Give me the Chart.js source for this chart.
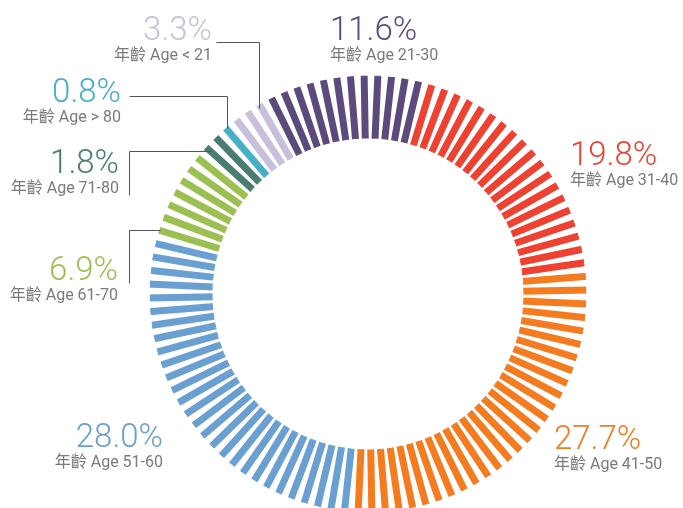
<!DOCTYPE html>
<html>
<head>
<meta charset="utf-8">
<script src="https://cdn.jsdelivr.net/npm/chart.js@4.4.1/dist/chart.umd.min.js"></script>
<style>
    html, body { margin: 0; padding: 0; background: #fff; overflow: hidden; }
    #wrap { width: 683px; height: 508px; position: relative; }
</style>
</head>
<body>
<div id="wrap"><canvas id="age-chart"></canvas></div>
<script>
const ageGroups = ['年齡 Age < 21', '年齡 Age 21-30', '年齡 Age 31-40', '年齡 Age 41-50',
    '年齡 Age 51-60', '年齡 Age 61-70', '年齡 Age 71-80', '年齡 Age > 80'];
const sharePercent = [3.3, 11.6, 19.8, 27.7, 28.0, 6.9, 1.8, 0.8];
const groupColors = ['#c8bfdb', '#5c4a7d', '#ef4131', '#f47b20', '#6a9fd1', '#9cbf52', '#4b7c72', '#46afc8'];

// label placement: [x, y of percent baseline, align]
const labelPos = [
    [212, 40, 'right'],
    [330, 40, 'left'],
    [570, 165, 'left'],
    [554, 449, 'left'],
    [163, 447, 'right'],
    [118, 280, 'right'],
    [119, 173, 'right'],
    [121, 102, 'right']
];
// leader lines for the small groups
const leaders = [
    [[216, 42], [259, 42], [259, 108]],
    null, null, null, null,
    [[129, 283], [129, 230], [160, 230]],
    [[129, 195], [129, 151], [211, 151]],
    [[129, 96], [227, 96], [227, 128]]
];

const STRIPES = 100;
const STRIPE_W = 7;
const STRIPE_PHASE = 0.83;

const stripePlugin = {
    id: 'stripes',
    afterDatasetsDraw(chart) {
        const arcs = chart.getDatasetMeta(0).data;
        if (!arcs.length) return;
        const { x, y, innerRadius, outerRadius } = arcs[0].getProps(['x', 'y', 'innerRadius', 'outerRadius'], true);
        const start = arcs[0].startAngle;
        const step = Math.PI * 2 / STRIPES;
        const ctx = chart.ctx;
        const base = ctx.getTransform();

        const angles = [];
        for (let k = 0; k < STRIPES; k++) {
            angles.push(start + (k + STRIPE_PHASE) * step);
        }

        ctx.save();
        // first paint each stripe's wedge with the colour of the slice its centre falls in
        ctx.globalCompositeOperation = 'source-atop';
        angles.forEach(a => {
            let norm = a;
            while (norm >= start + Math.PI * 2) norm -= Math.PI * 2;
            const arc = arcs.find(el => norm >= el.startAngle && norm < el.endAngle) || arcs[arcs.length - 1];
            ctx.beginPath();
            ctx.moveTo(x, y);
            ctx.arc(x, y, outerRadius + 3, a - step / 2, a + step / 2);
            ctx.closePath();
            ctx.fillStyle = arc.options.backgroundColor;
            ctx.fill();
        });

        // then keep only the stripes of the ring
        ctx.globalCompositeOperation = 'destination-in';
        ctx.beginPath();
        angles.forEach(a => {
            ctx.setTransform(base);
            ctx.translate(x, y);
            ctx.rotate(a);
            ctx.rect(innerRadius - 2, -STRIPE_W / 2, outerRadius - innerRadius + 4, STRIPE_W);
        });
        ctx.setTransform(base);
        ctx.fill();
        ctx.restore();
    },
    afterDraw(chart) {
        const ctx = chart.ctx;
        ctx.save();
        ctx.lineWidth = 1;
        ctx.strokeStyle = '#555555';
        leaders.forEach(pts => {
            if (!pts) return;
            ctx.beginPath();
            ctx.moveTo(pts[0][0] + 0.5, pts[0][1] + 0.5);
            for (let i = 1; i < pts.length; i++) ctx.lineTo(pts[i][0] + 0.5, pts[i][1] + 0.5);
            ctx.stroke();
        });

        ctx.textBaseline = 'alphabetic';
        sharePercent.forEach((v, i) => {
            const [lx, ly, align] = labelPos[i];
            ctx.textAlign = align;
            ctx.fillStyle = groupColors[i];
            ctx.font = '300 33px "Helvetica Neue", Roboto, "Noto Sans CJK TC", sans-serif';
            ctx.fillText(v.toFixed(1) + '%', lx, ly);
            ctx.fillStyle = '#7a7a7a';
            ctx.font = '16px "Helvetica Neue", Roboto, "Noto Sans CJK TC", sans-serif';
            ctx.fillText(ageGroups[i], lx, ly + 20);
        });
        ctx.restore();
    }
};

new Chart(document.getElementById('age-chart'), {
    type: 'doughnut',
    data: {
        labels: ageGroups,
        datasets: [{
            data: sharePercent,
            backgroundColor: groupColors,
            borderColor: groupColors,
            borderWidth: 1,
            radius: 218,
            cutout: '71.6%'
        }]
    },
    options: {
        responsive: true,
        maintainAspectRatio: false,
        animation: false,
        rotation: -40,
        layout: {
            padding: { top: 80, left: 53, right: 0, bottom: 0 }
        },
        plugins: {
            legend: { display: false },
            tooltip: { enabled: false }
        }
    },
    plugins: [stripePlugin]
});
</script>
</body>
</html>
